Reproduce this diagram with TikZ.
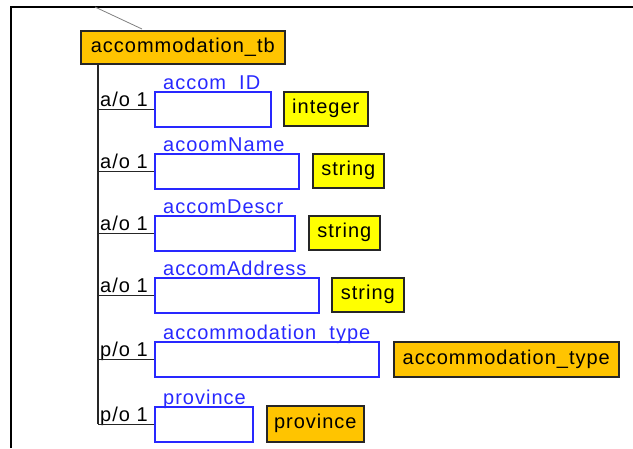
\documentclass[tikz,border=0pt]{standalone}
\usepackage{fontspec}
\setmainfont{Liberation Sans}[LetterSpace=5]
\begin{document}
\begin{tikzpicture}[x=1pt,y=-1pt,
  every node/.style={font=\fontsize{20}{22}\selectfont},
  entity/.style={draw=black!85, line width=1.6pt, fill=entorange, inner sep=0pt, anchor=north west, text=black},
  dtype/.style={draw=black!85, line width=1.6pt, fill=typeyellow, inner sep=0pt, anchor=north west, text=black},
  field/.style={draw=fieldblue, line width=1.6pt, fill=white, inner sep=0pt, anchor=north west, minimum height=35pt},
  fname/.style={text=fieldblue, inner sep=0pt, anchor=base west},
  card/.style={text=black, inner sep=0pt, anchor=base west},
  branch/.style={draw=black!85, line width=1.6pt},
]
\definecolor{entorange}{RGB}{255,196,0}
\definecolor{typeyellow}{RGB}{255,255,0}
\definecolor{fieldblue}{RGB}{40,40,255}
\useasboundingbox (0,0) rectangle (633,448);

% frame edges and incoming link
\draw[line width=2pt] (11,448) -- (11,7) -- (633,7);
\draw[gray, line width=0.8pt] (95,7) -- (142,29);

% root entity
\node[entity, minimum width=204pt, minimum height=33pt] (tb) at (80,30) {accommodation\_tb};

% trunk
\coordinate (trunk) at (98,63);
\coordinate (trunkend) at (98,424);
\draw[branch] (trunk) -- (trunkend);

% attribute fields
\node[field, minimum width=116pt] (f1) at (154,91) {};
\node[field, minimum width=144pt] (f2) at (154,153) {};
\node[field, minimum width=140pt] (f3) at (154,215) {};
\node[field, minimum width=164pt] (f4) at (154,277) {};
\node[field, minimum width=224pt] (f5) at (154,341) {};
\node[field, minimum width=98pt]  (f6) at (154,406) {};

% field names
\node[fname] (n1) at (163,89) {accom\_ID};
\node[fname] (n2) at (163,151) {acoomName};
\node[fname] (n3) at (163,213) {accomDescr};
\node[fname] (n4) at (163,275) {accomAddress};
\node[fname] (n5) at (163,339) {accommodation\_type};
\node[fname] (n6) at (163,404) {province};

% cardinalities
\node[card] (c1) at (100,106) {a/o 1};
\node[card] (c2) at (100,168) {a/o 1};
\node[card] (c3) at (100,230) {a/o 1};
\node[card] (c4) at (100,292) {a/o 1};
\node[card] (c5) at (100,356) {p/o 1};
\node[card] (c6) at (100,421) {p/o 1};

% branches from trunk to fields
\foreach \f in {f1,f2,f3,f4,f5,f6}
  \draw[branch] (\f.west -| trunk) -- (\f.west);

% value types
\node[dtype, minimum width=84pt, minimum height=34pt] (t1) at (283,91) {integer};
\node[dtype, minimum width=71pt, minimum height=34pt] (t2) at (312,153) {string};
\node[dtype, minimum width=71pt, minimum height=34pt] (t3) at (308,215) {string};
\node[dtype, minimum width=72pt, minimum height=34pt] (t4) at (331,277) {string};
\node[entity, minimum width=225pt, minimum height=35pt] (t5) at (393,341) {accommodation\_type};
\node[entity, minimum width=97pt, minimum height=36pt] (t6) at (266,405) {province};
\end{tikzpicture}
\end{document}
